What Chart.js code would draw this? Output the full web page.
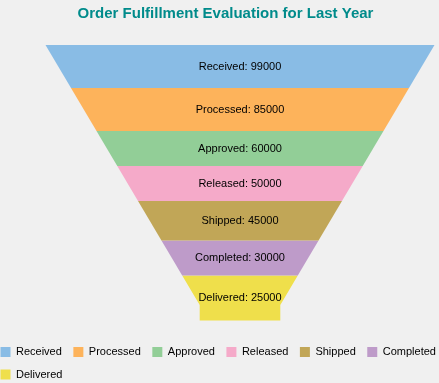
<!DOCTYPE html>
<html>
<head>
<meta charset="utf-8">
<script src="https://cdn.jsdelivr.net/npm/chart.js@4/dist/chart.umd.min.js"></script>
<style>
  html, body { margin: 0; padding: 0; background: #F0F0F0; overflow: hidden; width: 439px; height: 383px; }
  #wrap { position: absolute; left: -11px; top: 0; width: 473px; height: 390px; }
</style>
</head>
<body>
<div id="wrap"><canvas id="c" width="473" height="390"></canvas></div>
<script>
// ---- data ----
const stages = ['Received', 'Processed', 'Approved', 'Released', 'Shipped', 'Completed', 'Delivered'];
const orders = [99000, 85000, 60000, 50000, 45000, 30000, 25000];
const stageHeights = [43, 43, 35, 35, 39.5, 35, 45];   // drawn height of each stage (funnel depth units)
const chartTitle = 'Order Fulfillment Evaluation for Last Year';

// ---- styles ----
const palette = ['#89BCE5', '#FDB35B', '#92CE97', '#F5AAC9', '#C1A657', '#BE9BC9', '#EFDF4B'];
const FONT = '"Liberation Sans", Arial, sans-serif';

// funnel shape (funnel units)
const funnel = { topHalf: 194.5, neckHalf: 40.3, neckStart: 260 };
function halfWidth(d) {
  if (d >= funnel.neckStart) return funnel.neckHalf;
  return funnel.topHalf - (funnel.topHalf - funnel.neckHalf) * d / funnel.neckStart;
}

const bounds = [0];
stageHeights.forEach(h => bounds.push(bounds[bounds.length - 1] + h));

function segmentPolygon(i) {
  const d0 = bounds[i], d1 = bounds[i + 1];
  const right = [{ x: halfWidth(d0), y: d0 }];
  if (funnel.neckStart > d0 && funnel.neckStart < d1) right.push({ x: halfWidth(funnel.neckStart), y: funnel.neckStart });
  right.push({ x: halfWidth(d1), y: d1 });
  const left = right.slice().reverse().map(p => ({ x: -p.x, y: p.y }));
  return right.concat(left);
}

const datasets = stages.map((s, i) => ({
  label: s,
  data: segmentPolygon(i),
  value: orders[i],
  showLine: true,
  fill: 'shape',
  backgroundColor: palette[i],
  borderColor: 'rgba(0,0,0,0)',
  borderWidth: 0,
  pointRadius: 0,
  pointHoverRadius: 0,
  tension: 0
}));

const labelPlugin = {
  id: 'stageLabels',
  afterDatasetsDraw(chart) {
    const { ctx, scales: { x, y } } = chart;
    ctx.save();
    ctx.font = '11px ' + FONT;
    ctx.fillStyle = '#000000';
    ctx.textAlign = 'center';
    ctx.textBaseline = 'middle';
    stages.forEach((s, i) => {
      const mid = (bounds[i] + bounds[i + 1]) / 2;
      ctx.fillText(s + ': ' + orders[i], x.getPixelForValue(0), y.getPixelForValue(mid));
    });
    ctx.restore();
  }
};

new Chart(document.getElementById('c'), {
  type: 'scatter',
  data: { datasets },
  options: {
    responsive: false,
    animation: false,
    devicePixelRatio: 1,
    layout: { padding: 0 },
    scales: {
      x: { type: 'linear', display: false, min: -251, max: 222 },
      y: { type: 'linear', display: false, reverse: true, min: 0, max: 290 }
    },
    plugins: {
      title: {
        display: true,
        text: chartTitle,
        color: '#008B8B',
        font: { family: FONT, size: 15, weight: 'bold' },
        padding: { top: 5, bottom: 22 }
      },
      legend: {
        display: true,
        position: 'bottom',
        align: 'start',
        labels: {
          boxWidth: 10,
          boxHeight: 10,
          padding: 11.5,
          color: '#000000',
          font: { family: FONT, size: 11 }
        }
      },
      tooltip: { enabled: false }
    },
    events: []
  },
  plugins: [labelPlugin]
});
</script>
</body>
</html>
